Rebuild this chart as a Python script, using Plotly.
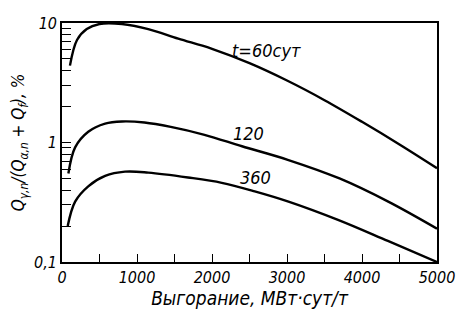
import math
import plotly.graph_objects as go

# Burnup, MW·day/t
x60 = [106, 200, 330, 500, 800, 1150, 1550, 2000, 2500, 3000, 3500, 4000, 4500, 5000]
y60 = [4.4, 7.2, 8.9, 9.8, 9.8, 8.9, 7.4, 6.08, 4.61, 3.30, 2.26, 1.49, 0.964, 0.61]

x120 = [85, 175, 350, 575, 800, 1100, 1450, 1900, 2400, 3000, 3700, 4350, 5000]
y120 = [0.55, 0.91, 1.23, 1.44, 1.5, 1.47, 1.35, 1.16, 0.93, 0.72, 0.50, 0.32, 0.19]

x360 = [76, 175, 350, 575, 840, 1150, 1680, 2130, 2570, 3020, 3680, 4345, 5000]
y360 = [0.20, 0.32, 0.43, 0.525, 0.57, 0.56, 0.51, 0.46, 0.39, 0.32, 0.225, 0.15, 0.10]

xtick_vals = [0, 1000, 2000, 3000, 4000, 5000]
xtick_text = ["0", "1000", "2000", "3000", "4000", "5000"]
ytick_vals = [0.1, 1, 10]
ytick_text = ["0,1", "1", "10"]

labels = ["t=60сут", "120", "360"]
label_x = [2730, 2490, 2585]
label_y = [5.94, 1.2, 0.51]

FONT = "DejaVu Sans Condensed, Liberation Sans Narrow, Roboto, sans-serif"

fig = go.Figure()
for xs, ys in [(x60, y60), (x120, y120), (x360, y360)]:
    fig.add_trace(go.Scatter(x=xs, y=ys, mode="lines",
                             line=dict(color="black", width=2.4, shape="spline", smoothing=1.0),
                             showlegend=False, hoverinfo="skip"))

# invisible trace that carries the overlay axis used for minor log ticks
fig.add_trace(go.Scatter(x=x360, y=y360, yaxis="y2", mode="lines",
                         line=dict(color="rgba(0,0,0,0)", width=0),
                         showlegend=False, hoverinfo="skip"))

for t, lx, ly in zip(labels, label_x, label_y):
    fig.add_annotation(x=lx, y=math.log10(ly), text=t, showarrow=False,
                       font=dict(size=18, family=FONT, color="black", style="italic"))

fig.update_layout(
    width=453, height=305,
    margin=dict(l=54, r=22, t=6, b=51),
    paper_bgcolor="white", plot_bgcolor="white",
    font=dict(family=FONT, color="black", size=16, style="italic"),
    xaxis=dict(range=[0, 5000], tickvals=xtick_vals, ticktext=xtick_text,
               ticks="inside", ticklen=8, tickwidth=1.2, tickcolor="black",
               ticklabeloverflow="allow",
               minor=dict(dtick=500, ticks="inside", ticklen=8, tickwidth=1.2, tickcolor="black", showgrid=False),
               showline=True, linecolor="black", linewidth=1.6, mirror=True,
               showgrid=False, zeroline=False,
               title=dict(text="Выгорание, МВт·сут/т", standoff=6,
                          font=dict(size=19, family=FONT, style="italic"))),
    yaxis=dict(type="log", range=[-1, 1], tickvals=ytick_vals, ticktext=ytick_text,
               ticks="inside", ticklen=9, tickwidth=1.2, tickcolor="black",
               ticklabeloverflow="allow",
               showline=True, linecolor="black", linewidth=1.6, mirror=True,
               showgrid=False, zeroline=False,
               title=dict(text="Q<sub>γ,n</sub>/(Q<sub>α,n</sub> + Q<sub>f</sub>), %", standoff=6,
                          font=dict(size=17, family=FONT, style="italic"))),
    yaxis2=dict(type="log", range=[-1, 1], overlaying="y", side="left", dtick="D1",
                ticks="inside", ticklen=9, tickwidth=1.2, tickcolor="black",
                showticklabels=False, showgrid=False, showline=False, zeroline=False),
)

fig.write_html("out.html")
